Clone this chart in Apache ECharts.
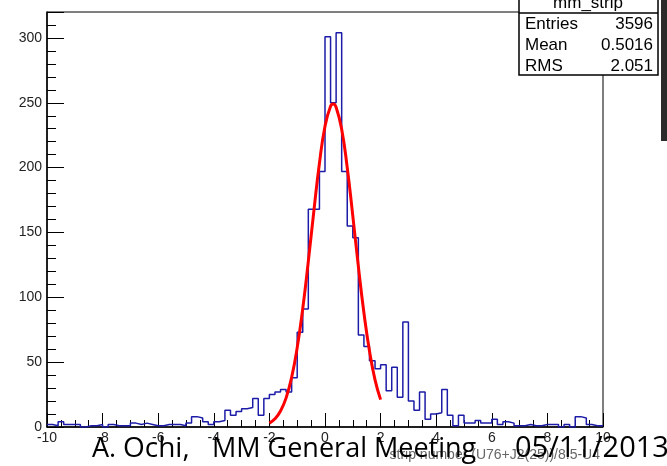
<!DOCTYPE html>
<html>
<head>
<meta charset="utf-8">
<script src="https://cdn.jsdelivr.net/npm/echarts@6/dist/echarts.min.js"></script>
<style>
html, body { margin: 0; padding: 0; background: #fff; }
#chart { width: 667px; height: 466px; }
</style>
</head>
<body>
<div id="chart"></div>
<script>
// histogram mm_strip: 100 bins of 0.2 from -10 to 10
const binStart = -10;
const binWidth = 0.2;
const counts = [
    2, 1, 4, 2, 2, 2, 0, 1, 1, 2,
    0, 2, 1, 1, 1, 3, 2, 3, 2, 1,
    1, 2, 2, 2, 1, 3, 8, 7, 4, 2,
    4, 5, 13, 9, 12, 14, 15, 22, 9, 22,
    25, 27, 29, 27, 38, 73, 91, 168, 168, 197,
    301, 250, 304, 197, 155, 146, 71, 62, 51, 45,
    48, 28, 46, 23, 81, 20, 13, 27, 6, 10,
    11, 29, 9, 1, 9, 3, 3, 5, 3, 3,
    6, 2, 4, 3, 1, 1, 2, 1, 1, 2,
    2, 2, 0, 2, 0, 8, 7, 2, 1, 1
];

// gaussian fit curve
const fitX = [-2.0, -1.8, -1.6, -1.4, -1.2, -1.0, -0.8, -0.6, -0.4, -0.2, 0.0, 0.2, 0.3, 0.4, 0.6, 0.8, 1.0, 1.2, 1.4, 1.6, 1.8, 2.0];
const fitY = [3, 6.3, 12.3, 22.4, 38.3, 61.2, 91.4, 127.7, 166.7, 203.4, 231.9, 247.3, 249, 246.5, 229.6, 200.0, 162.8, 123.9, 88.1, 58.6, 36.4, 21.1];

const statLabels = ['Entries', 'Mean', 'RMS'];
const statValues = ['3596', '0.5016', '2.051'];

const histData = counts.map((c, i) => [binStart + i * binWidth, c]);
histData.push([binStart + counts.length * binWidth, counts[counts.length - 1]]);
const fitData = fitX.map((x, i) => [x, fitY[i]]);

const chart = echarts.init(document.getElementById('chart'));

const font = 'Liberation Sans, Arial, sans-serif';
const bigFont = '"Open Sans", sans-serif';

const statBox = [
    { type: 'rect', shape: { x: 519, y: -2, width: 139, height: 77 },
      style: { fill: '#fff', stroke: '#000', lineWidth: 1.5 }, z: 10 },
    { type: 'line', shape: { x1: 519, y1: 13, x2: 658, y2: 13 },
      style: { stroke: '#000', lineWidth: 1.5 }, z: 11 },
    { type: 'text', x: 588, y: 3, z: 11,
      style: { text: 'mm_strip', font: '17px ' + font, fill: '#000', textAlign: 'center', textVerticalAlign: 'middle' } }
];
statLabels.forEach((lab, i) => {
    statBox.push({ type: 'text', x: 525, y: 24 + i * 21, z: 11,
        style: { text: lab, font: '17px ' + font, fill: '#000', textVerticalAlign: 'middle' } });
    statBox.push({ type: 'text', x: 653, y: 24 + i * 21, z: 11,
        style: { text: statValues[i], font: '17px ' + font, fill: '#000', textAlign: 'right', textVerticalAlign: 'middle' } });
});

const option = {
    animation: false,
    backgroundColor: '#fff',
    grid: {
        left: 47, right: 64, top: 12, bottom: 39,
        show: true, borderColor: '#000', borderWidth: 1,
        outerBoundsMode: 'none'
    },
    xAxis: {
        type: 'value',
        min: -10, max: 10, interval: 2,
        axisLine: { lineStyle: { color: '#000', width: 1.5 } },
        axisTick: { inside: true, length: 14, lineStyle: { color: '#000' } },
        minorTick: { show: true, splitNumber: 4, length: 7, lineStyle: { color: '#000' } },
        splitLine: { show: false },
        axisLabel: { color: '#222', fontSize: 14, fontFamily: font, margin: 4, showMinLabel: true, showMaxLabel: true }
    },
    yAxis: {
        type: 'value',
        min: 0, max: 320, interval: 50,
        axisLine: { show: true, onZero: false, lineStyle: { color: '#000', width: 1.5 } },
        axisTick: { show: true, inside: true, length: 17, lineStyle: { color: '#000' } },
        minorTick: { show: true, splitNumber: 5, length: 9, lineStyle: { color: '#000' } },
        splitLine: { show: false },
        axisLabel: { color: '#222', fontSize: 14, fontFamily: font, margin: 5, showMaxLabel: false }
    },
    series: [
        {
            name: 'mm_strip',
            type: 'line',
            step: 'end',
            data: histData,
            symbol: 'none',
            lineStyle: { color: '#1c1ca8', width: 1.5 },
            z: 2
        },
        {
            name: 'fit',
            type: 'line',
            data: fitData,
            smooth: true,
            symbol: 'none',
            lineStyle: { color: '#ff0000', width: 3 },
            z: 3
        }
    ],
    graphic: [
        ...statBox,
        { type: 'rect', shape: { x: 661, y: 0, width: 6, height: 141 }, style: { fill: '#2a2a2a' }, z: 10 },
        { type: 'text', x: 600, y: 462, z: 5,
          style: { text: 'strip number (U76+J2(25))/8.5-U4', font: '14px ' + font, fill: '#666', textAlign: 'right', textVerticalAlign: 'bottom' } },
        { type: 'text', x: 92, y: 463, z: 12,
          style: { text: 'A.', font: '27px ' + bigFont, fill: '#000', textVerticalAlign: 'bottom' } },
        { type: 'text', x: 123, y: 463, z: 12,
          style: { text: 'Ochi,', font: '28px ' + bigFont, fill: '#000', textVerticalAlign: 'bottom' } },
        { type: 'text', x: 212, y: 463, z: 12,
          style: { text: 'MM General Meeting', font: '27px ' + bigFont, fill: '#000', textVerticalAlign: 'bottom' } },
        { type: 'text', x: 515, y: 463, z: 12,
          style: { text: '05/11/2013', font: '29px ' + bigFont, fill: '#000', textVerticalAlign: 'bottom' } }
    ]
};

chart.setOption(option);
</script>
</body>
</html>
